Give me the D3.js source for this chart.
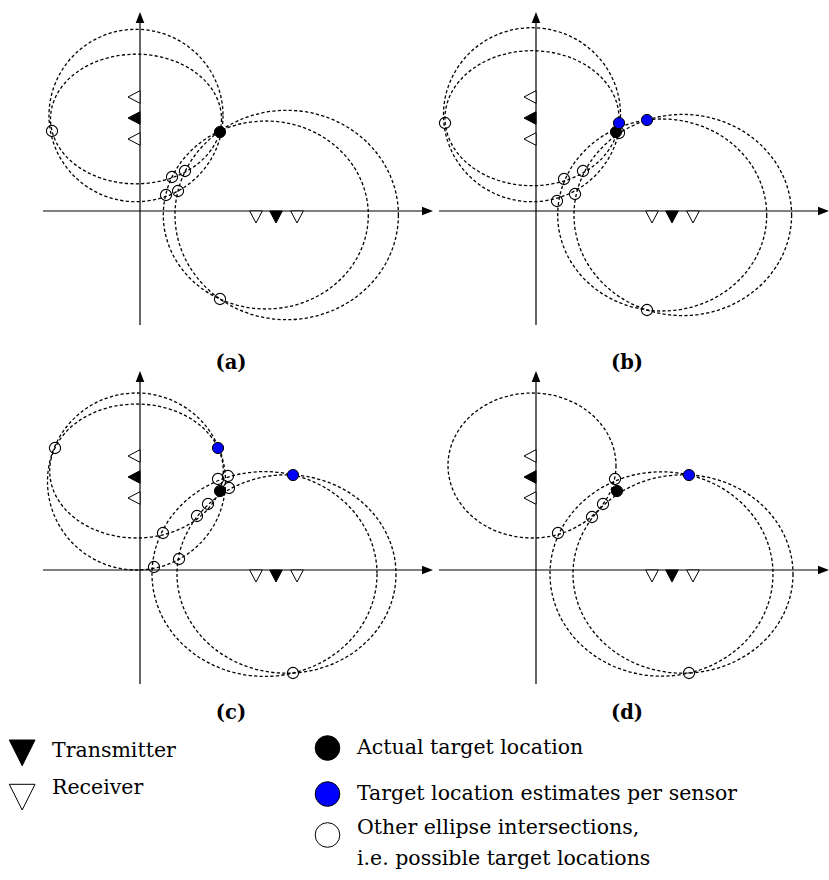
<!DOCTYPE html>
<html><head><meta charset="utf-8">
<script src="https://cdn.jsdelivr.net/npm/d3@7"></script>
<style>body{margin:0;background:#fff} svg{display:block}</style>
</head><body>
<script>
// ---------- data (diagram units, y up, origin at axes crossing) ----------
const panelLabels = ["(a)", "(b)", "(c)", "(d)"];

// sensor on the y-axis (pointing left) and on the x-axis (pointing down)
const ySensorRx = [114, 72];
const ySensorTx = [93];
const xSensorRx = [116, 157];
const xSensorTx = [136];

// ellipses [cx, cy, rx, ry] per panel
const leftEllipses = [
  [[-4, 95.5, 87, 86.2], [-4, 92, 85.5, 64.8]],
  [[-4, 96.3, 88.5, 87], [-4, 92.8, 87, 67.5]],
  [[-3.5, 88.5, 89, 88.5], [-3.5, 99, 86.8, 67]],
  [[-4, 104.5, 84, 72.5]]
];
const rightEllipses = [
  [[146.7, -4, 111.7, 104.7], [125.8, -4, 102.5, 94]],
  [[146.8, -4, 108.8, 100.6], [126.2, -4, 104.5, 96]],
  [[146.5, -4, 109.5, 99.2], [124.5, -4, 112.5, 102.4]],
  [[147, -4, 110, 99.2], [125.5, -4, 111.5, 102.2]]
];

// actual target, per-sensor estimates, other intersections [x, y]
const actualTarget = [[80, 79], [80, 79], [80, 79], [81, 79]];
const estimates = [
  [],
  [[83, 88], [111, 91]],
  [[78, 122], [153, 95]],
  [[153, 95]]
];
const otherIntersections = [
  [[-88, 80], [32, 34], [45, 40], [26, 16], [38, 20], [80, -88]],
  [[-91, 88], [83, 78], [28, 32], [47, 40], [21, 10], [39, 17], [111, -99]],
  [[-85, 122], [78, 91], [88, 94], [89, 82], [68, 66], [57, 54], [23, 37], [39, 11], [14, 3], [153, -103]],
  [[79, 91], [67, 66], [56, 53], [22, 37], [153, -103]]
];

const xAxisExtent = [-97, 293];
const yAxisExtent = [-114, 199];

const legendSensors = ["Transmitter", "Receiver"];
const legendPoints = [
  ["Actual target location"],
  ["Target location estimates per sensor"],
  ["Other ellipse intersections,", "i.e. possible target locations"]
];

// ---------- drawing ----------
const W = 829, H = 880;
const svg = d3.select("body").append("svg").attr("width", W).attr("height", H);
const serif = "'DejaVu Serif', 'Liberation Serif', serif";
const BLUE = "#0000ff";

panelLabels.forEach((label, i) => {
  const col = i % 2, row = Math.floor(i / 2);
  const ox = 140 + col * 396, oy = 211 + row * 359;
  const x = d3.scaleLinear().domain([-100, 300]).range([ox - 100, ox + 300]);
  const y = d3.scaleLinear().domain([-120, 200]).range([oy + 120, oy - 200]);
  const g = svg.append("g");

  // axes
  g.append("line").attr("x1", x(xAxisExtent[0])).attr("x2", x(xAxisExtent[1]) - 8)
    .attr("y1", y(0)).attr("y2", y(0)).attr("stroke", "#000").attr("stroke-width", 1.2);
  g.append("path")
    .attr("d", `M${x(xAxisExtent[1])},${y(0)} L${x(xAxisExtent[1]) - 11},${y(0) - 4.3} L${x(xAxisExtent[1]) - 11},${y(0) + 4.3} Z`)
    .attr("fill", "#000");
  g.append("line").attr("x1", x(0)).attr("x2", x(0))
    .attr("y1", y(yAxisExtent[0])).attr("y2", y(yAxisExtent[1]) + 8)
    .attr("stroke", "#000").attr("stroke-width", 1.2);
  g.append("path")
    .attr("d", `M${x(0)},${y(yAxisExtent[1])} L${x(0) - 4.3},${y(yAxisExtent[1]) + 11} L${x(0) + 4.3},${y(yAxisExtent[1]) + 11} Z`)
    .attr("fill", "#000");

  // ellipses
  const ells = [...leftEllipses[i], ...rightEllipses[i]];
  g.selectAll("ellipse.e").data(ells).join("ellipse").attr("class", "e")
    .attr("cx", d => x(d[0])).attr("cy", d => y(d[1]))
    .attr("rx", d => x(d[0] + d[2]) - x(d[0]))
    .attr("ry", d => y(d[1]) - y(d[1] + d[3]))
    .attr("fill", "none").attr("stroke", "#000")
    .attr("stroke-width", 1.3).attr("stroke-dasharray", "3.2,2.3");

  // sensors on y-axis (pointing left)
  const leftTri = v => `M${x(0)},${y(v + 6.3)} L${x(-12)},${y(v)} L${x(0)},${y(v - 6.3)} Z`;
  g.selectAll("path.yrx").data(ySensorRx).join("path").attr("class", "yrx")
    .attr("d", leftTri).attr("fill", "#fff").attr("stroke", "#000").attr("stroke-width", 1);
  g.selectAll("path.ytx").data(ySensorTx).join("path").attr("class", "ytx")
    .attr("d", leftTri).attr("fill", "#000").attr("stroke", "#000").attr("stroke-width", 1);

  // sensors on x-axis (pointing down)
  const downTri = v => `M${x(v - 6.3)},${y(0)} L${x(v)},${y(-12)} L${x(v + 6.3)},${y(0)} Z`;
  g.selectAll("path.xrx").data(xSensorRx).join("path").attr("class", "xrx")
    .attr("d", downTri).attr("fill", "#fff").attr("stroke", "#000").attr("stroke-width", 1);
  g.selectAll("path.xtx").data(xSensorTx).join("path").attr("class", "xtx")
    .attr("d", downTri).attr("fill", "#000").attr("stroke", "#000").attr("stroke-width", 1);

  // markers
  g.selectAll("circle.o").data(otherIntersections[i]).join("circle").attr("class", "o")
    .attr("cx", d => x(d[0])).attr("cy", d => y(d[1])).attr("r", 5.6)
    .attr("fill", "none").attr("stroke", "#000").attr("stroke-width", 1.1);
  g.selectAll("circle.t").data([actualTarget[i]]).join("circle").attr("class", "t")
    .attr("cx", d => x(d[0])).attr("cy", d => y(d[1])).attr("r", 5.6)
    .attr("fill", "#000").attr("stroke", "#000").attr("stroke-width", 1);
  g.selectAll("circle.b").data(estimates[i]).join("circle").attr("class", "b")
    .attr("cx", d => x(d[0])).attr("cy", d => y(d[1])).attr("r", 5.6)
    .attr("fill", BLUE).attr("stroke", "#000").attr("stroke-width", 1);

  // caption
  g.append("text").attr("x", x(91)).attr("y", oy + 158 - row * 9)
    .attr("text-anchor", "middle").attr("font-family", serif)
    .attr("font-weight", "bold").attr("font-size", 19.5).text(label);
});

// ---------- legend ----------
const lg = svg.append("g").attr("font-family", serif).attr("font-size", 20.5).attr("fill", "#000");
const sensorY = [740, 784.3];
legendSensors.forEach((t, k) => {
  const top = sensorY[k];
  lg.append("path").attr("d", `M9.3,${top} L35,${top} L22.2,${top + 25.7} Z`)
    .attr("fill", k === 0 ? "#000" : "#fff").attr("stroke", "#000").attr("stroke-width", 1);
  lg.append("text").attr("x", 52).attr("y", top + (k === 0 ? 17 : 9.7)).text(t);
});

const pointY = [748, 794, 835];
const pointFill = ["#000", BLUE, "#fff"];
const pointBase = [[754], [800], [834.3, 865]];
legendPoints.forEach((lines, k) => {
  lg.append("circle").attr("cx", 327.5).attr("cy", pointY[k]).attr("r", 12.3)
    .attr("fill", pointFill[k]).attr("stroke", "#000").attr("stroke-width", 1);
  lines.forEach((t, j) => {
    lg.append("text").attr("x", 357).attr("y", pointBase[k][j]).text(t);
  });
});
</script>
</body></html>
